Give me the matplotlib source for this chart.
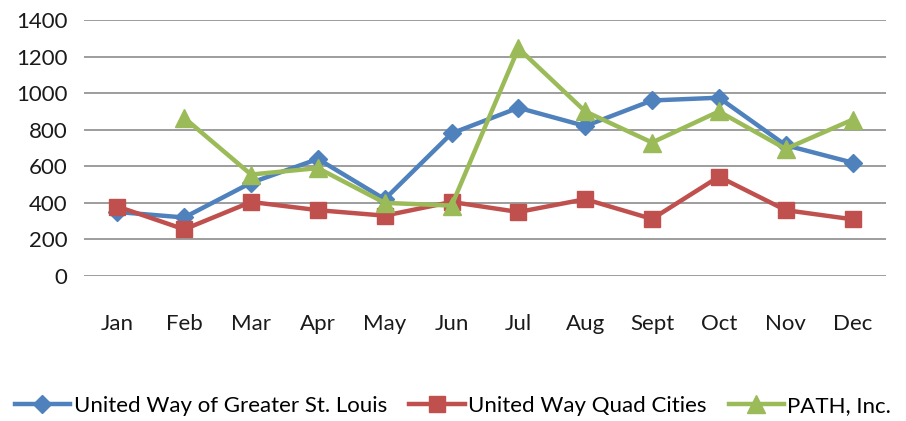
import matplotlib.pyplot as plt
import numpy as np

months = ['Jan', 'Feb', 'Mar', 'Apr', 'May', 'Jun', 'Jul', 'Aug', 'Sept', 'Oct', 'Nov', 'Dec']
stlouis = [350, 320, 510, 640, 420, 780, 920, 820, 960, 975, 715, 620]
quad_cities = [380, 255, 405, 360, 330, 405, 350, 420, 312, 543, 360, 310]
path_inc = [np.nan, 865, 555, 590, 400, 385, 1245, 900, 730, 900, 695, 855]

plt.rcParams['font.family'] = ['Lato', 'DejaVu Sans']

fig = plt.figure(figsize=(9.06, 4.21), dpi=100)
ax = fig.add_axes([84/906, 1 - 276/421, 802/906, 256/421])

x = np.arange(len(months))
lw = 3.2
ax.plot(x, stlouis, color='#4F81BD', lw=lw, marker='D', ms=9, label='United Way of Greater St. Louis', zorder=3)
ax.plot(x, quad_cities, color='#C0504D', lw=lw, marker='s', ms=12, label='United Way Quad Cities', zorder=4)
ax.plot(x, path_inc, color='#9BBB59', lw=lw, marker='^', ms=13, label='PATH, Inc.', zorder=5)

ax.set_xlim(-0.5, len(months) - 0.5)
ax.set_ylim(0, 1400)
ax.set_yticks(range(0, 1401, 200))
ax.set_xticks(x)
ax.set_xticklabels(months)
ax.grid(axis='y', color='#8c8c8c', lw=1.2)
ax.set_axisbelow(True)
for s in ax.spines.values():
    s.set_visible(False)
ax.tick_params(length=0, labelsize=16, colors='#1a1a1a')
ax.tick_params(axis='y', pad=12)
ax.tick_params(axis='x', pad=27)

fig.legend(loc='center', bbox_to_anchor=(0.5, 1 - 406/421), ncol=3, frameon=False,
           fontsize=16, handlelength=2.5, handletextpad=0.15, columnspacing=1.0)

fig.savefig('out.png', dpi=100)
